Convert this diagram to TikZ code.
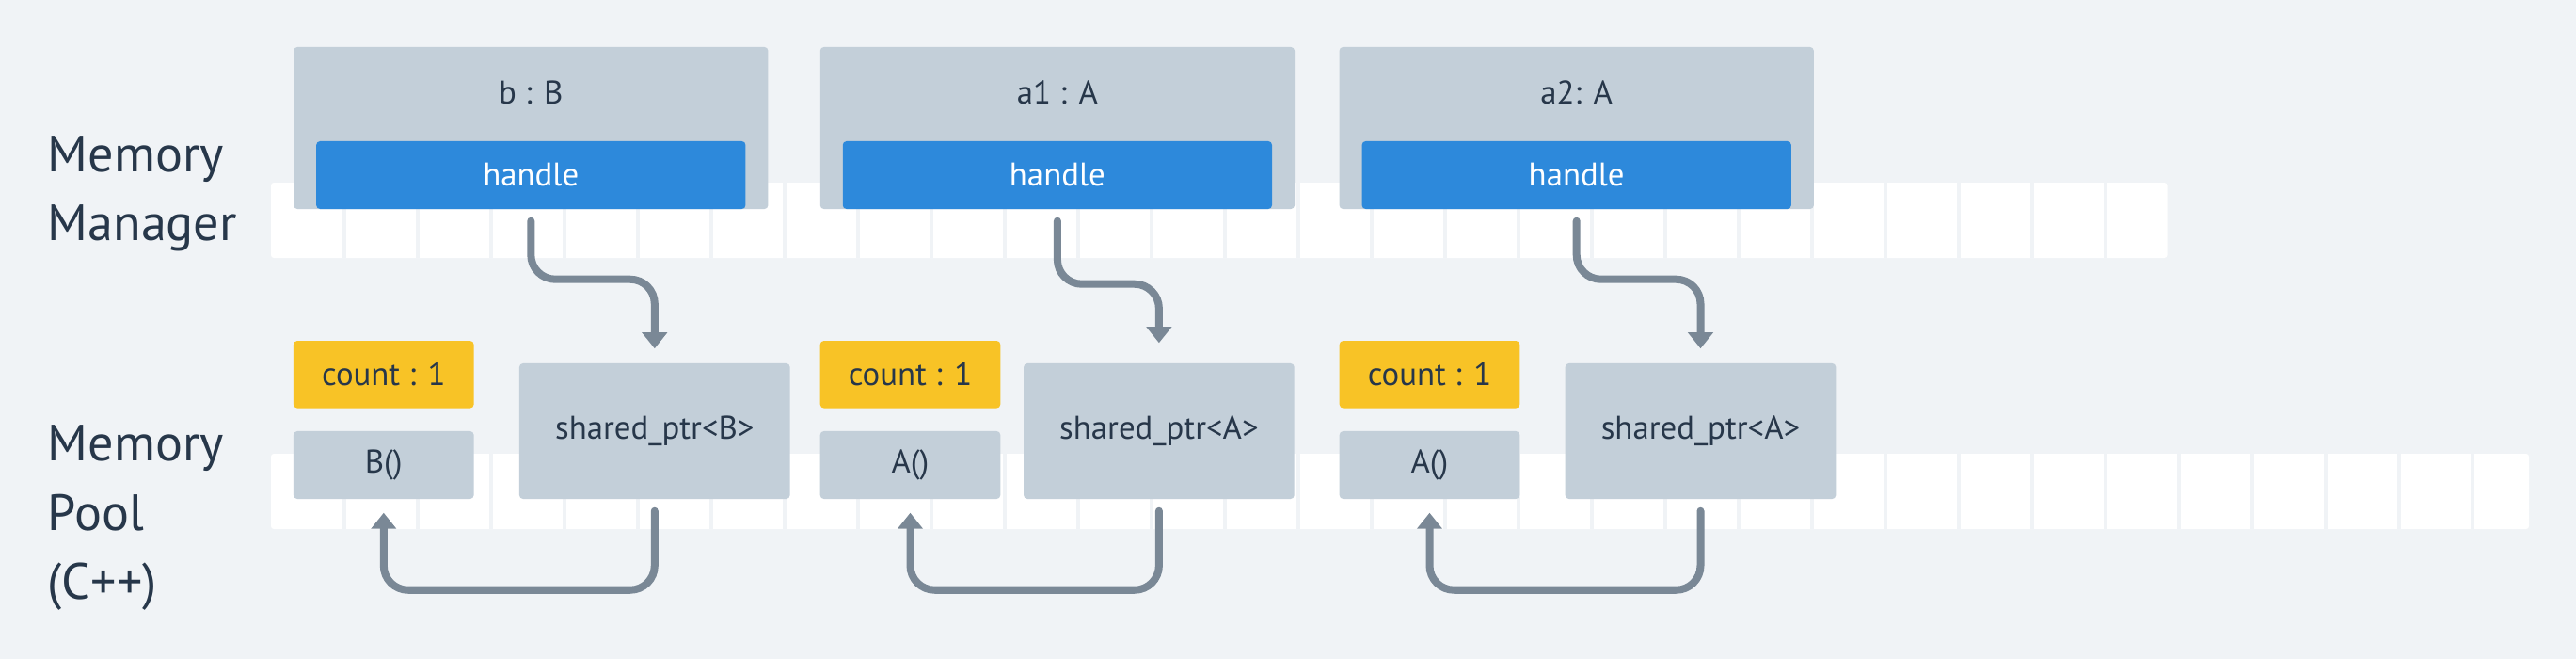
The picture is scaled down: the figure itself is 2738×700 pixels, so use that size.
\documentclass[tikz,border=0pt]{standalone}
\usepackage{fontspec}
\setmainfont{PT Sans}
\usetikzlibrary{arrows.meta}
\definecolor{paper}{HTML}{F0F3F6}
\definecolor{objgray}{HTML}{C3CFD9}
\definecolor{handleblue}{HTML}{2D89DB}
\definecolor{countyellow}{HTML}{F8C326}
\definecolor{arrowgray}{HTML}{7A8896}
\definecolor{ink}{HTML}{27374A}
\def\boxfont{\fontsize{9.9}{12}\selectfont}
\def\sidefont{\fontsize{15.4}{20.9}\selectfont}

\tikzset{
	objbox/.style={fill=objgray, rounded corners=0.04cm, minimum width=5.04cm, minimum height=1.72cm, inner sep=0pt},
	handlebox/.style={fill=handleblue, text=white, font=\boxfont, rounded corners=0.04cm, minimum width=4.56cm, minimum height=0.72cm, inner sep=0pt},
	countbox/.style={fill=countyellow, text=ink, font=\boxfont, rounded corners=0.04cm, minimum width=1.915cm, minimum height=0.715cm, inner sep=0pt},
	unitbox/.style={fill=objgray, text=ink, font=\boxfont, rounded corners=0.04cm, minimum width=1.915cm, minimum height=0.72cm, inner sep=0pt},
	ptrbox/.style={fill=objgray, text=ink, font=\boxfont, rounded corners=0.04cm, minimum width=2.875cm, minimum height=1.44cm, inner sep=0pt},
	flow/.style={draw=arrowgray, line width=0.08cm, line cap=round, rounded corners=0.26cm, -{Triangle[width=0.26cm,length=0.17cm]}},
}

\begin{document}
\begin{tikzpicture}[x=0.01cm, y=-0.01cm]
			%%%%% START %%%%%
			
			\useasboundingbox[fill=paper] (0, 0) rectangle (2738, 700);
			
			\node[text=ink, font=\sidefont, align=left, anchor=north west, inner sep=0pt] (mgrlabel) at (50, 143.7) {Memory\\Manager};
			\node[text=ink, font=\sidefont, align=left, anchor=north west, inner sep=0pt] (poollabel) at (50, 451) {Memory\\Pool\\(C++)};
			
			\fill[white, rounded corners=0.03cm] (288, 194) rectangle (2303.5, 274);
			\foreach \i in {1,...,25}
				\draw[paper, line width=0.045cm] ({288+78*\i}, 194) -- ({288+78*\i}, 274);
			\fill[white, rounded corners=0.03cm] (288, 482) rectangle (2688, 562);
			\foreach \i in {1,...,30}
				\draw[paper, line width=0.045cm] ({288+78*\i}, 482) -- ({288+78*\i}, 562);
			
			\node[objbox] (objb) at (564.3, 136) {};
			\node[text=ink, font=\boxfont, inner sep=0pt] (nameb) at (564.3, 98) {b : B};
			\node[handlebox] (handleb) at (564.3, 186) {handle};
			
			\node[objbox] (obja1) at (1123.9, 136) {};
			\node[text=ink, font=\boxfont, inner sep=0pt] (namea1) at (1123.9, 98) {a1 : A};
			\node[handlebox] (handlea1) at (1123.9, 186) {handle};
			
			\node[objbox] (obja2) at (1675.7, 136) {};
			\node[text=ink, font=\boxfont, inner sep=0pt] (namea2) at (1675.7, 98) {a2: A};
			\node[handlebox] (handlea2) at (1675.7, 186) {handle};
			
			\node[countbox] (countb) at (407.8, 397.8) {count : 1};
			\node[unitbox] (unitb) at (407.8, 494) {B()};
			\node[ptrbox] (ptrb) at (695.8, 458) {shared\_ptr<B>};
			
			\node[countbox] (counta1) at (967.5, 397.8) {count : 1};
			\node[unitbox] (unita1) at (967.5, 494) {A()};
			\node[ptrbox] (ptra1) at (1231.9, 458) {shared\_ptr<A>};
			
			\node[countbox] (counta2) at (1519.5, 397.8) {count : 1};
			\node[unitbox] (unita2) at (1519.5, 494) {A()};
			\node[ptrbox] (ptra2) at (1807.5, 458) {shared\_ptr<A>};
			
			\draw[flow, shorten <=0.12cm, shorten >=0.15cm] (handleb.south) -- ++(0, 74) -| (ptrb.north);
			\draw[flow, shorten <=0.12cm, shorten >=0.21cm] (handlea1.south) -- ++(0, 79) -| (ptra1.north);
			\draw[flow, shorten <=0.12cm, shorten >=0.15cm] (handlea2.south) -- ++(0, 74) -| (ptra2.north);
			
			\draw[flow, shorten <=0.12cm, shorten >=0.14cm] (ptrb.south) -- ++(0, 96) -| (unitb.south);
			\draw[flow, shorten <=0.12cm, shorten >=0.14cm] (ptra1.south) -- ++(0, 96) -| (unita1.south);
			\draw[flow, shorten <=0.12cm, shorten >=0.14cm] (ptra2.south) -- ++(0, 96) -| (unita2.south);
			
			%%%%% END %%%%%
\end{tikzpicture}
\end{document}
